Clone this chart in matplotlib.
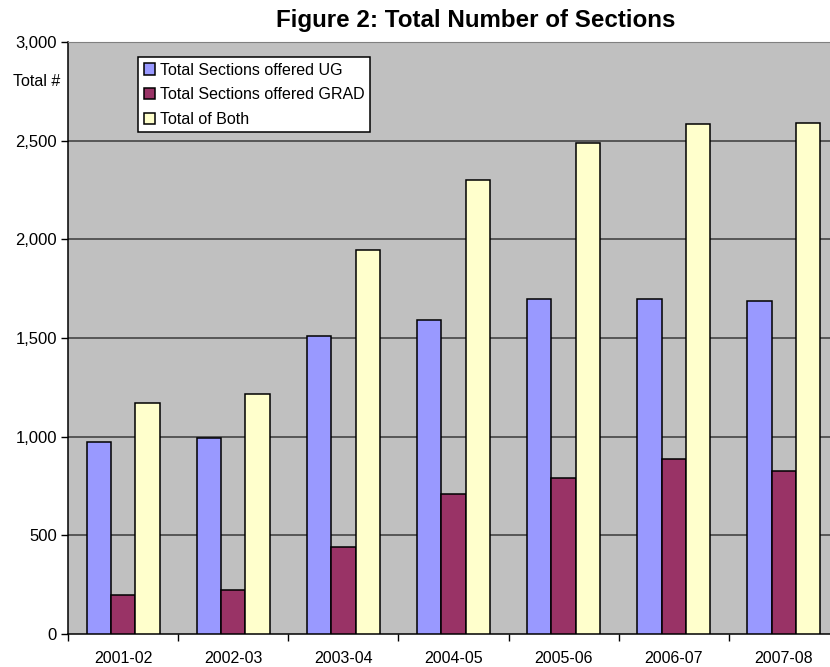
import numpy as np
import matplotlib.pyplot as plt

plt.rcParams['font.family'] = ['Liberation Sans', 'DejaVu Sans']

years = ['2001-02', '2002-03', '2003-04', '2004-05', '2005-06', '2006-07', '2007-08']
ug = [974, 995, 1509, 1590, 1696, 1698, 1689]
grad = [198, 221, 443, 710, 789, 889, 828]
both = [1172, 1215, 1946, 2300, 2487, 2585, 2592]

fig = plt.figure(figsize=(8.3, 6.67), dpi=100)
ax = fig.add_axes([68 / 830, 33 / 667, 771 / 830, 592 / 667])
ax.set_facecolor('#C0C0C0')

x = np.arange(len(years))
w = 0.221
kw = dict(edgecolor='black', linewidth=1.1, zorder=3)
ax.bar(x - w, ug, w, color='#9999FF', label='Total Sections offered UG', **kw)
ax.bar(x, grad, w, color='#993366', label='Total Sections offered GRAD', **kw)
ax.bar(x + w, both, w, color='#FFFFCC', label='Total of Both', **kw)

ax.set_xlim(-0.5, len(years) - 0.5)
ax.set_ylim(0, 3000)
ax.set_yticks(range(0, 3001, 500))
ax.set_yticklabels([f'{v:,}' for v in range(0, 3001, 500)], fontsize=12)
for v in range(500, 3000, 500):
    ax.axhline(v, color='#3a3a3a', linewidth=1.1, zorder=1)

# category ticks at boundaries, labels at centres
ax.set_xticks(np.arange(-0.5, len(years), 1.0))
ax.set_xticklabels([])
ax.set_xticks(x, minor=True)
ax.set_xticklabels(years, minor=True, fontsize=11.5)
ax.tick_params(axis='x', which='minor', length=0, pad=12)
ax.tick_params(axis='x', which='major', length=5, direction='out', width=1)
ax.tick_params(axis='y', length=5, direction='out', width=1, pad=3)

for s in ['left', 'bottom']:
    ax.spines[s].set_color('black')
    ax.spines[s].set_linewidth(1.1)
ax.spines['top'].set_color('#808080')
ax.spines['right'].set_visible(False)

ax.text(-0.57, 2800, 'Total #', ha='right', va='center', fontsize=11.5)

leg = ax.legend(loc='upper left', bbox_to_anchor=(70 / 770, (634 - 57) / 592),
                borderaxespad=0, fancybox=False, framealpha=1, edgecolor='black',
                fontsize=11.5, handlelength=0.7, handleheight=0.7, handletextpad=0.3,
                labelspacing=0.6, borderpad=0.35)
leg.get_frame().set_linewidth(1.1)

fig.text(476 / 830, 1 - 20 / 667, 'Figure 2: Total Number of Sections',
         ha='center', va='center', fontsize=17.4, fontweight='bold')

fig.savefig('out.png', dpi=100)
